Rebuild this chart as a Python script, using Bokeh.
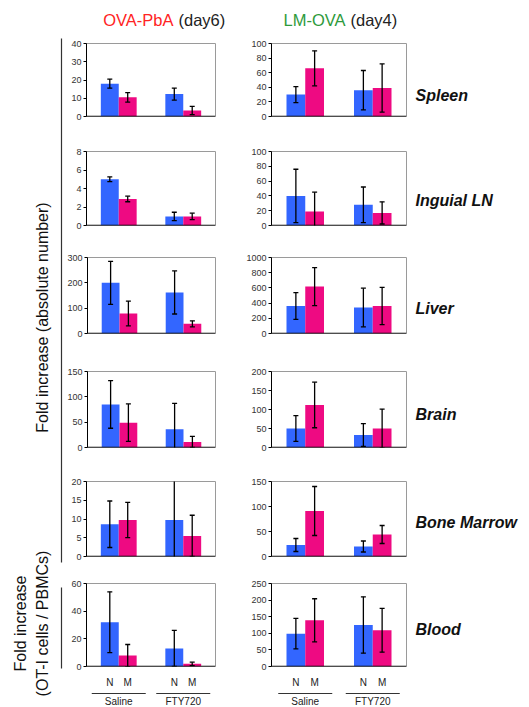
import math
from bokeh.plotting import figure
from bokeh.models import FactorRange, Range1d, FixedTicker, ColumnDataSource, Span
from bokeh.layouts import row, column
from bokeh.embed import file_html
from bokeh.resources import INLINE
from bokeh.core.properties import value

# ---------------- data ----------------
organs = ["Spleen", "Inguial LN", "Liver", "Brain", "Bone Marrow", "Blood"]
treatments = ["Saline", "FTY720"]
cells = ["N", "M"]

# OVA-PbA (day6): order Saline-N, Saline-M, FTY720-N, FTY720-M
pba_spleen = [18, 10.5, 12.3, 3.3]
pba_spleen_err = [2.5, 2.6, 3.3, 2.3]
pba_ing = [5.0, 2.87, 0.98, 0.98]
pba_ing_err = [0.25, 0.3, 0.45, 0.35]
pba_liver = [200, 79, 162, 38]
pba_liver_err = [85, 49, 85, 12]
pba_brain = [85, 49, 36, 11]
pba_brain_err = [47, 37, 51, 11]
pba_bm = [8.6, 9.75, 9.75, 5.5]
pba_bm_err = [6.2, 4.7, 13.5, 5.5]
pba_blood = [32, 7.9, 13.1, 1.9]
pba_blood_err = [22, 8, 13, 1.2]

# LM-OVA (day4)
lm_spleen = [30, 66, 36, 39]
lm_spleen_err = [11, 24, 27, 33]
lm_ing = [40, 19, 28, 17]
lm_ing_err = [36, 26, 24, 15]
lm_liver = [362, 617, 342, 362]
lm_liver_err = [177, 250, 254, 246]
lm_brain = [50, 112, 33, 50]
lm_brain_err = [34, 60, 30, 51]
lm_bm = [23, 91, 20, 44]
lm_bm_err = [13, 49, 11, 18]
lm_blood = [99, 139, 125, 109]
lm_blood_err = [46, 65, 85, 66]

# y-axis tick settings (max, step)
pba_ymax = [40, 8, 300, 150, 20, 60]
pba_step = [10, 2, 100, 50, 5, 20]
lm_ymax = [100, 100, 1000, 200, 150, 250]
lm_step = [20, 20, 200, 50, 50, 50]

pba_vals = [pba_spleen, pba_ing, pba_liver, pba_brain, pba_bm, pba_blood]
pba_errs = [pba_spleen_err, pba_ing_err, pba_liver_err, pba_brain_err, pba_bm_err, pba_blood_err]
lm_vals = [lm_spleen, lm_ing, lm_liver, lm_brain, lm_bm, lm_blood]
lm_errs = [lm_spleen_err, lm_ing_err, lm_liver_err, lm_brain_err, lm_bm_err, lm_blood_err]

# ---------------- style / layout ----------------
BLUE = "#3366ff"
PINK = "#ee0a82"
FONT = "Liberation Sans"

row_h = [106, 105, 113, 110, 106, 98]
left_tb = [(8, 76), (9, 79), (9, 78), (9, 79), (8, 79), (8, 85)]
right_tb = [(7, 74), (10, 74), (11, 80), (12, 76), (12, 76), (7, 84)]
organ_y = [95, 200, 308, 414, 522, 629]
LW, LBL, LBR = 176, 22, 25
RW, RBL, RBR = 170, 31, 4
OW = 113
HDR_H = 35
LAB_H = 33
LEFT_W = 64

factors = [(t, c) for t in treatments for c in cells]
colors = [BLUE, PINK] * len(treatments)


def make_xrange():
    return FactorRange(factors=factors, factor_padding=0.0, group_padding=1.6,
                       range_padding=0.8, range_padding_units="absolute")


def base_fig(w, h, xr, yr, bl, br, bt, bb, yaxis=None):
    p = figure(width=w, height=h, x_range=xr, y_range=yr,
               x_axis_location=None, y_axis_location=yaxis,
               toolbar_location=None, output_backend="svg",
               min_border_left=bl, min_border_right=br,
               min_border_top=bt, min_border_bottom=bb)
    p.grid.grid_line_color = None
    p.background_fill_color = "white"
    p.border_fill_color = "white"
    return p


def panel(vals, errs, ymax, step, w, bl, br, h, bt, fh):
    bb = h - bt - fh
    p = base_fig(w, h, make_xrange(), Range1d(0, ymax), bl, br, bt, bb, yaxis="left")
    p.outline_line_color = "#9a9a9a"
    p.outline_line_width = 1
    src = ColumnDataSource(dict(
        x=factors, top=vals, color=colors,
        lo=[v - e for v, e in zip(vals, errs)],
        hi=[v + e for v, e in zip(vals, errs)]))
    p.vbar(x="x", top="top", width=1.0, fill_color="color", line_color=None, source=src)
    p.segment(x0="x", y0="lo", x1="x", y1="hi", line_color="black", line_width=1.3, source=src)
    p.scatter(x="x", y="hi", marker="dash", size=5, line_color="black", line_width=1.3, source=src)
    p.scatter(x="x", y="lo", marker="dash", size=5, line_color="black", line_width=1.3, source=src)
    p.add_layout(Span(location=0, dimension="width", line_color="black", line_width=1.6))
    ax = p.yaxis[0]
    ax.ticker = FixedTicker(ticks=list(range(0, ymax + 1, step)))
    ax.major_label_text_font = FONT
    ax.major_label_text_font_size = "9px"
    ax.major_label_text_color = "#333333"
    ax.major_label_standoff = 2
    ax.axis_line_color = "black"
    ax.axis_line_width = 1
    ax.major_tick_line_color = "black"
    ax.major_tick_out = 3
    ax.major_tick_in = 0
    ax.minor_tick_line_color = None
    return p


def label_fig(w, bl, br):
    p = base_fig(w, LAB_H, make_xrange(), Range1d(LAB_H, 0), bl, br, 0, 0)
    p.outline_line_color = None
    p.text(x=factors, y=[9] * len(factors), text=[c for t in treatments for c in cells],
           text_font=value(FONT), text_font_size="10px", text_color="#222222",
           text_align="center", text_baseline="middle")
    p.rect(x=treatments, y=[20] * len(treatments), width=54, width_units="screen",
           height=1, height_units="screen", fill_color="#333333", line_color=None)
    p.text(x=treatments, y=[22.5] * len(treatments), text=treatments,
           text_font=value(FONT), text_font_size="10px", text_color="#222222",
           text_align="center", text_baseline="top")
    return p


# header
HW = LW + RW
hdr = base_fig(HW, HDR_H, Range1d(0, HW), Range1d(HDR_H, 0), 0, 0, 0, 0)
hdr.outline_line_color = None
for xr_, word, col, xb, rest in [(109, "OVA-PbA", "#ff2323", 114, "(day6)"),
                                  (281, "LM-OVA", "#2e9a3c", 286, "(day4)")]:
    hdr.text(x=[xr_], y=[19], text=[word], text_font=value(FONT), text_font_size="16.5px",
             text_color=col, text_align="right", text_baseline="middle")
    hdr.text(x=[xb], y=[19], text=[rest], text_font=value(FONT), text_font_size="16.5px",
             text_color="#222222", text_align="left", text_baseline="middle")

rows = [hdr]
for i in range(len(organs)):
    lp = panel(pba_vals[i], pba_errs[i], pba_ymax[i], pba_step[i], LW, LBL, LBR,
               row_h[i], left_tb[i][0], left_tb[i][1])
    rp = panel(lm_vals[i], lm_errs[i], lm_ymax[i], lm_step[i], RW, RBL, RBR,
               row_h[i], right_tb[i][0], right_tb[i][1])
    rows.append(row(lp, rp))
rows.append(row(label_fig(LW, LBL, LBR), label_fig(RW, RBL, RBR)))

TOT_H = HDR_H + sum(row_h) + LAB_H

# left label strip
lf = base_fig(LEFT_W, TOT_H, Range1d(0, LEFT_W), Range1d(TOT_H, 0), 0, 0, 0, 0)
lf.outline_line_color = None
lf.segment(x0=[61, 61], y0=[38, 587], x1=[61, 61], y1=[562, 668],
           line_color="#333333", line_width=1.2)
lf.text(x=[42], y=[317], text=["Fold increase (absolute number)"], angle=math.pi / 2,
        text_font=value(FONT), text_font_size="16px", text_color="#111111",
        text_align="center", text_baseline="middle")
lf.text(x=[20, 42], y=[623, 623], text=["Fold increase", "(OT-I cells / PBMCs)"],
        angle=math.pi / 2, text_font=value(FONT), text_font_size="16px",
        text_color="#111111", text_align="center", text_baseline="middle")

# right organ-label strip
rf = base_fig(OW, TOT_H, Range1d(0, OW), Range1d(TOT_H, 0), 0, 0, 0, 0)
rf.outline_line_color = None
rf.text(x=[5] * len(organs), y=organ_y, text=organs, text_font=value(FONT),
        text_font_size="16px", text_font_style="bold italic", text_color="#111111",
        text_baseline="middle", text_align="left")

page = row(lf, column(*rows), rf)

open("out.html", "w").write(file_html(page, INLINE))
